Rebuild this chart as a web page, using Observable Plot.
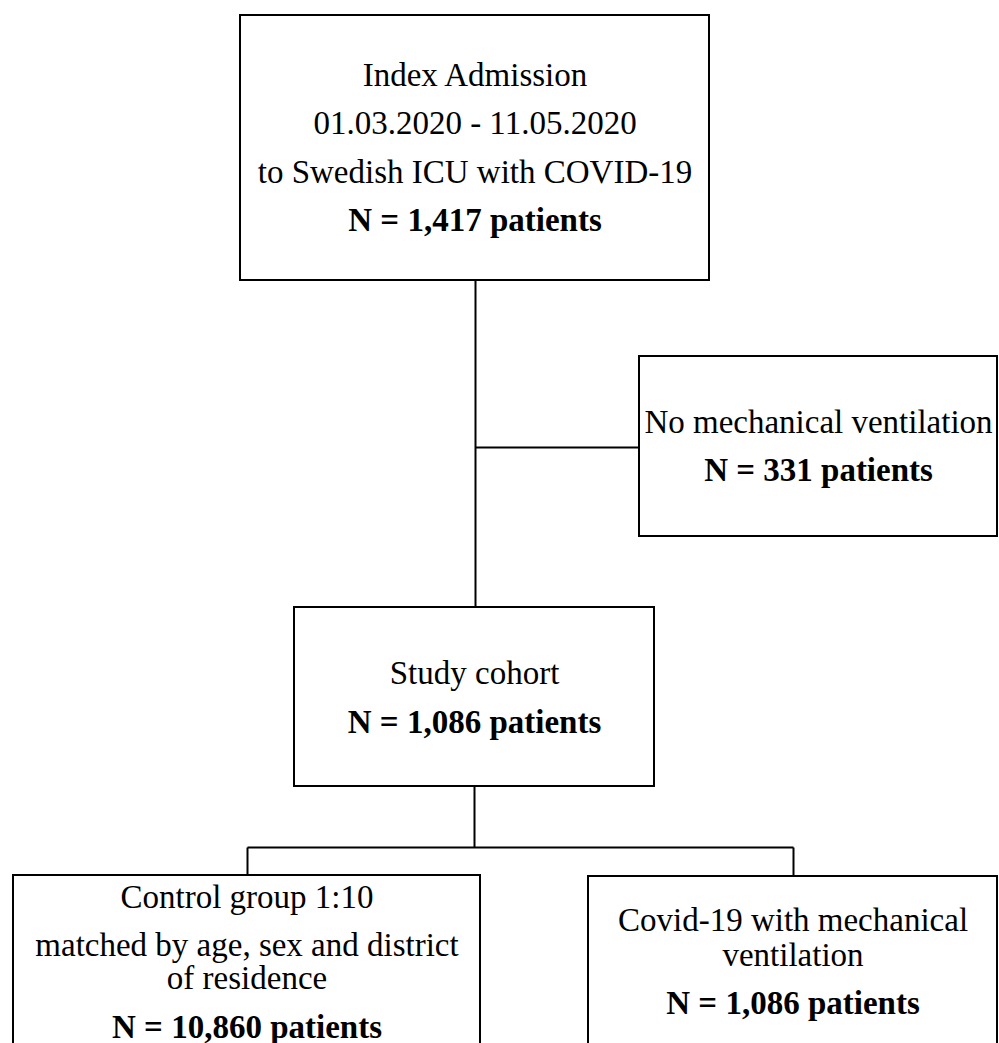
<!DOCTYPE html>
<html>
<head>
<meta charset="utf-8">
<script src="https://cdn.jsdelivr.net/npm/d3@7"></script>
<script src="https://cdn.jsdelivr.net/npm/@observablehq/plot@0.6"></script>
<style>
  html, body { margin: 0; padding: 0; background: #fff; overflow: hidden; }
  #chart svg { display: block; }
</style>
</head>
<body>
<div id="chart"></div>
<script>
// ---- Data ----
const boxIds = ["index", "excluded", "cohort", "control", "covid"];
const boxDescriptions = [
  ["Index Admission", "01.03.2020 - 11.05.2020", "to Swedish ICU with COVID-19"],
  ["No mechanical ventilation"],
  ["Study cohort"],
  ["Control group 1:10", "matched by age, sex and district", "of residence"],
  ["Covid-19 with mechanical", "ventilation"]
];
const patientCounts = [1417, 331, 1086, 10860, 1086];

// ---- Layout (diagram geometry, pixel units) ----
const boxFrames = [
  {x1: 240, x2: 709, y1: 15,  y2: 280},
  {x1: 639, x2: 997, y1: 356, y2: 536},
  {x1: 294, x2: 654, y1: 607, y2: 786},
  {x1: 13,  x2: 480, y1: 875, y2: 1080},
  {x1: 588, x2: 997, y1: 876, y2: 1080}
];
// baselines of description lines, then the bold count line
const lineBaselines = [
  [85, 133, 182], 
  [432],
  [683],
  [907, 955, 988],
  [930, 965]
];
const countBaselines = [230, 480, 732, 1037, 1013];

const connectors = [
  {x1: 475, y1: 280, x2: 475, y2: 607},
  {x1: 475, y1: 447, x2: 639, y2: 447},
  {x1: 474, y1: 786, x2: 474, y2: 847},
  {x1: 247, y1: 847, x2: 793, y2: 847},
  {x1: 247, y1: 847, x2: 247, y2: 875},
  {x1: 793, y1: 847, x2: 793, y2: 876}
];

// ---- Build tables ----
const fmt = d3.format(",");
const boxes = boxIds.map((id, i) => ({id, ...boxFrames[i]}));
const descLines = boxIds.flatMap((id, i) => boxDescriptions[i].map((t, j) => ({
  text: t, x: (boxFrames[i].x1 + boxFrames[i].x2) / 2, y: lineBaselines[i][j]
})));
const countLines = boxIds.map((id, i) => ({
  text: `N = ${fmt(patientCounts[i])} patients`,
  x: (boxFrames[i].x1 + boxFrames[i].x2) / 2, y: countBaselines[i]
}));

const W = 999, H = 1043;
const font = "'Liberation Serif', 'Times New Roman', Times, serif";

const chart = Plot.plot({
  width: W, height: H,
  margin: 0,
  x: {type: "linear", domain: [0, W], range: [0, W], axis: null},
  y: {type: "linear", domain: [0, H], range: [0, H], axis: null},
  style: {background: "#fff", fontFamily: font},
  marks: [
    Plot.link(connectors, {x1: "x1", y1: "y1", x2: "x2", y2: "y2", stroke: "#000", strokeWidth: 2}),
    Plot.rect(boxes, {x1: "x1", x2: "x2", y1: "y1", y2: "y2", fill: "#fff", stroke: "#000", strokeWidth: 2, clip: true}),
    Plot.text(descLines, {x: "x", y: "y", text: "text", fontSize: 33, fontFamily: font, fill: "#000",
      textAnchor: "middle", lineAnchor: "bottom"}),
    Plot.text(countLines, {x: "x", y: "y", text: "text", fontSize: 33, fontFamily: font, fontWeight: "bold", fill: "#000",
      textAnchor: "middle", lineAnchor: "bottom"})
  ]
});
document.getElementById("chart").appendChild(chart);
</script>
</body>
</html>
